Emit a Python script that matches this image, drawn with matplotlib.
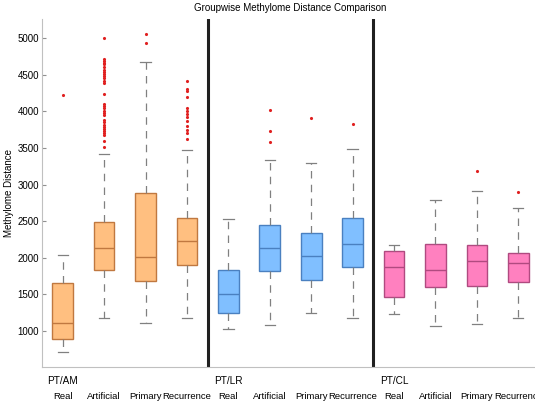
import matplotlib
matplotlib.use("Agg")
import matplotlib.pyplot as plt

plt.rcParams['font.family'] = ['Liberation Sans', 'DejaVu Sans']

# box statistics
groups = ["PT/AM", "PT/LR", "PT/CL"]
categories = ["Real", "Artificial", "Primary", "Recurrence"]
q1 = [887, 1827, 1677, 1903, 1250, 1817, 1695, 1877, 1468, 1600, 1613, 1663]
med = [1105, 2135, 2012, 2226, 1504, 2127, 2026, 2189, 1868, 1832, 1954, 1927]
q3 = [1659, 2495, 2890, 2549, 1840, 2448, 2339, 2549, 2090, 2190, 2176, 2072]
whislo = [717, 1177, 1105, 1181, 1027, 1078, 1241, 1181, 1236, 1068, 1091, 1181]
whishi = [2037, 3414, 4673, 3475, 2535, 3342, 3300, 3492, 2181, 2785, 2913, 2678]
fliers = [
    [4220],
    [5000, 4710, 4690, 4660, 4640, 4600, 4570, 4540, 4510, 4480, 4450, 4420, 4390,
     4230, 4100, 4070, 4040, 4010, 3980, 3950, 3880, 3850, 3820, 3790, 3760, 3730,
     3700, 3680, 3600, 3510],
    [5050, 4930],
    [4410, 4300, 4280, 4200, 4040, 4000, 3970, 3920, 3870, 3800, 3750, 3700, 3620],
    [],
    [4014, 3728, 3578],
    [3909],
    [3833],
    [],
    [],
    [3182],
    [2896],
]

fills = ["#FFBF80", "#80BFFF", "#FF80BF"]
edges = ["#C07840", "#4A80C0", "#B04A80"]

stats = []
for i in range(12):
    stats.append(dict(q1=q1[i], med=med[i], q3=q3[i], whislo=whislo[i],
                      whishi=whishi[i], fliers=fliers[i]))

fig = plt.figure(figsize=(5.35, 4.05), dpi=100)
ax = fig.add_axes([0.0785, 0.094, 0.929, 0.859])

pos = list(range(1, 13))
bp = ax.bxp(stats, positions=pos, widths=0.5, patch_artist=True,
            showfliers=True, manage_ticks=False)

for i, box in enumerate(bp['boxes']):
    g = i // 4
    box.set_facecolor(fills[g])
    box.set_edgecolor(edges[g])
    box.set_linewidth(1.0)
    bp['medians'][i].set_color(edges[g])
    bp['medians'][i].set_linewidth(1.0)
for w in bp['whiskers']:
    w.set_color("#808080")
    w.set_linestyle((0, (6, 5)))
    w.set_linewidth(0.9)
for c in bp['caps']:
    c.set_color("#808080")
    c.set_linewidth(0.9)
for f in bp['fliers']:
    f.set_marker('.')
    f.set_markersize(2.5)
    f.set_markerfacecolor("#E02020")
    f.set_markeredgecolor("#E02020")

for xs in [4.5, 8.5]:
    ax.axvline(xs, color="#202020", linewidth=2.2)

ax.set_xlim(0.5, 12.5)
ax.set_ylim(510, 5260)
ax.set_yticks([1000, 1500, 2000, 2500, 3000, 3500, 4000, 4500, 5000])
ax.tick_params(axis='y', direction='in', length=3, color="#909090",
               labelsize=7, pad=2)
ax.set_xticks([])
for s in ['top', 'right']:
    ax.spines[s].set_visible(False)
for s in ['left', 'bottom']:
    ax.spines[s].set_color("#c0c0c0")

ax.set_ylabel("Methylome Distance", fontsize=7, labelpad=3)
ax.set_title("Groupwise Methylome Distance Comparison", fontsize=7, pad=6)

for g in range(3):
    ax.text(1 + 4 * g, -0.026, groups[g], transform=ax.get_xaxis_transform(),
            ha='center', va='top', fontsize=7.2)
    for k in range(4):
        ax.text(1 + 4 * g + k, -0.073, categories[k],
                transform=ax.get_xaxis_transform(),
                ha='center', va='top', fontsize=6.8)

fig.savefig("out.png", dpi=100)
